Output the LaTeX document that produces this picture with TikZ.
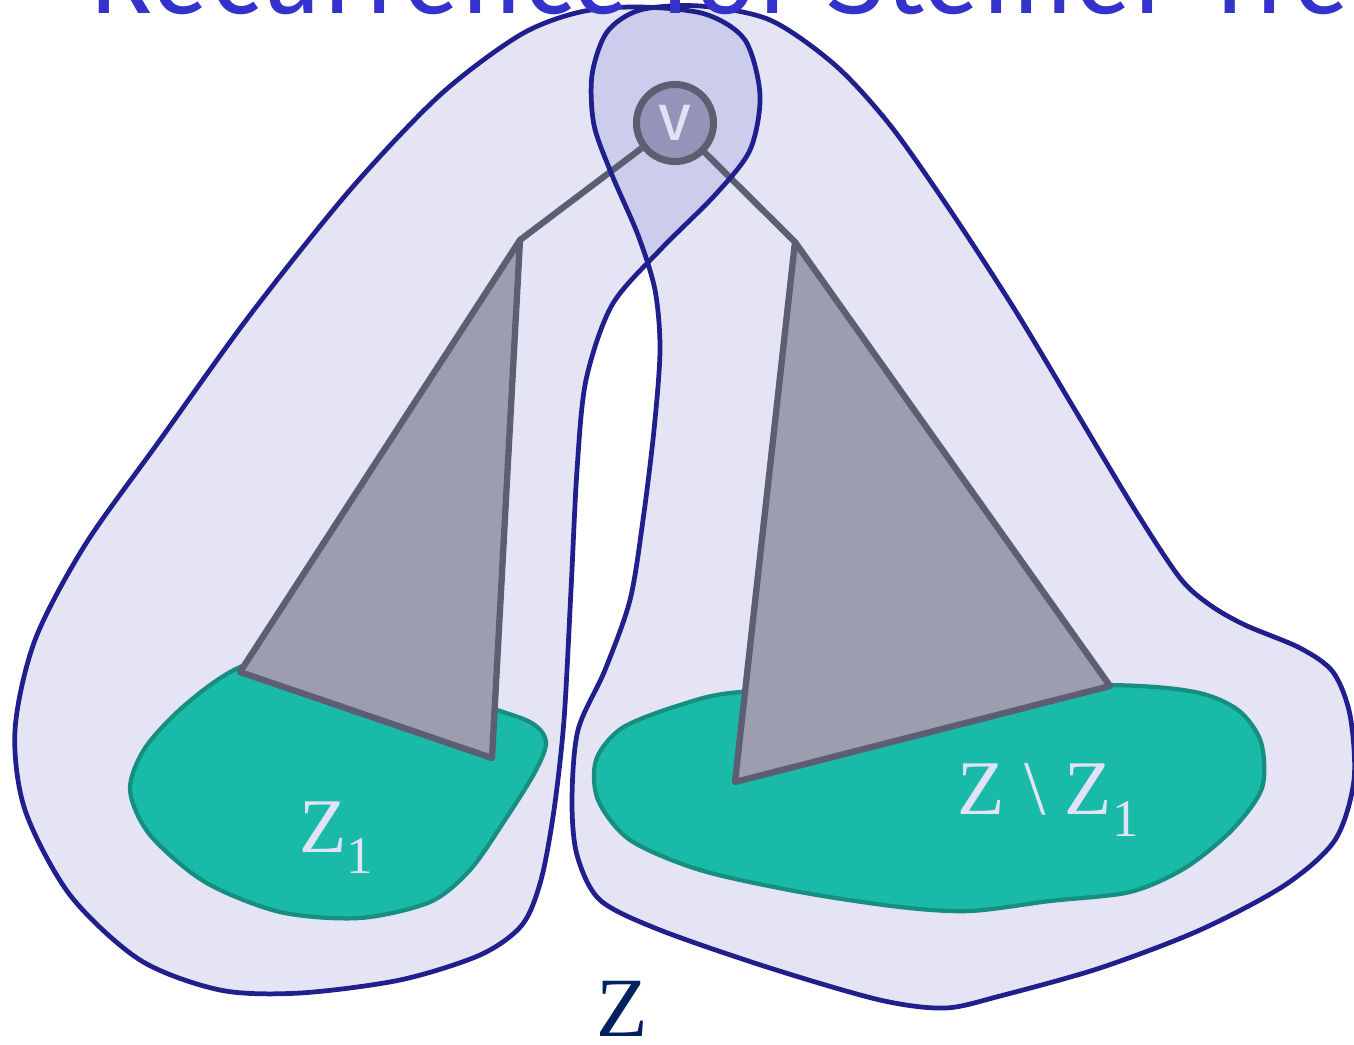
\documentclass[tikz,border=0pt]{standalone}
\usepackage{fontspec}
\setmainfont{Liberation Serif}
\newfontfamily\titlefont{Fira Sans}
\usetikzlibrary{positioning}
\definecolor{hullline}{RGB}{32,32,140}
\definecolor{hullfill}{RGB}{20,20,170}
\definecolor{termfill}{RGB}{26,186,168}
\definecolor{termline}{RGB}{22,142,128}
\definecolor{treefill}{RGB}{156,158,176}
\definecolor{treeline}{RGB}{94,94,114}
\definecolor{rootfill}{RGB}{148,148,184}
\definecolor{labelcol}{RGB}{226,226,246}
\definecolor{setcol}{RGB}{0,32,96}
\definecolor{titlecol}{RGB}{51,51,204}

\newcommand\lowsub[1]{\raisebox{-6pt}{\fontsize{15}{18}\selectfont #1}}

\tikzset{
  hull/.style={fill=hullfill, fill opacity=0.115},
  hullrim/.style={draw=hullline, line width=1.35pt},
  termset/.style={fill=termfill, draw=termline, line width=1.2pt},
  subtree/.style={fill=treefill, draw=treeline, line width=1.8pt, line join=round},
  treeedge/.style={draw=treeline, line width=1.8pt},
  setlabel/.style={text=labelcol, font=\fontsize{22}{26}\selectfont},
}

\begin{document}
\begin{tikzpicture}[x=0.01cm, y=-0.01cm]
    \useasboundingbox (0,0) rectangle (1354,1044);
    % --- Hulls (fill only, rims later) ---
    \path[hull, save path=\lefthull] plot[smooth cycle] coordinates {
      (640,7) (705,14) (745,40) (760,95) (750,150) (715,195) (660,250)
      (612,305) (586,380) (577,470) (571,590) (564,720) (554,810) (541,880)
      (522,925) (480,955) (400,980) (300,993) (220,990) (140,960) (70,895)
      (25,810) (15,730) (35,640) (85,545) (160,440) (250,315) (350,190)
      (440,95) (520,35) (580,12)};
    \path[hull, save path=\righthull] plot[smooth cycle] coordinates {
      (600,900) (577,855) (572,800) (578,730) (605,670) (630,600) (643,520)
      (654,430) (660,350) (655,290) (638,235) (612,175) (594,125) (592,75)
      (607,32) (640,10) (700,6) (770,20) (835,65) (890,125) (950,210)
      (1015,310) (1075,410) (1135,510) (1180,578) (1210,605) (1245,625)
      (1300,648) (1333,672) (1350,715) (1354,780) (1335,840) (1285,885)
      (1200,930) (1100,968) (1000,996) (945,1008) (880,1000) (770,968)
      (660,930)};
    % --- Terminal sets ---
    \draw[termset] plot[smooth cycle] coordinates {
      (330,640) (240,667) (185,705) (145,748) (130,790) (150,835) (205,882)
      (280,912) (360,918) (430,902) (470,870) (505,820) (535,772) (546,742)
      (530,722) (470,700)};
    \draw[termset] plot[smooth cycle] coordinates {
      (740,692) (680,705) (622,728) (596,760) (598,800) (630,840) (700,870)
      (800,892) (900,907) (970,911) (1050,901) (1130,892) (1185,868)
      (1232,830) (1262,788) (1261,742) (1238,710) (1195,692) (1110,685)
      (900,687)};
    % --- Subtrees ---
    \coordinate (lt) at (520,240);
    \coordinate (rt) at (795,242);
    \draw[subtree] (lt) -- (240,672) -- (492,758) -- cycle;
    \draw[subtree] (rt) -- (1110,686) -- (735,782) -- cycle;
    % --- Root ---
    \node[circle, draw=treeline, fill=rootfill, line width=2pt,
          minimum size=0.77cm, inner sep=0pt, text=labelcol,
          font=\titlefont\fontsize{19}{22}\selectfont] (v) at (675,123) {v};
    \draw[treeedge] (v) -- (lt);
    \draw[treeedge] (v) -- (rt);
    % --- Hull rims ---
    \draw[hullrim, use path=\lefthull];
    \draw[hullrim, use path=\righthull];
    % --- Labels ---
    \node[setlabel] (zone) at (336,838) {Z\lowsub{1}};
    \node[setlabel] (zrest) at (1048,800) {Z \textbackslash{} Z\lowsub{1}};
    \node[text=setcol, font=\fontsize{24}{28}\selectfont] (zall) at (622,1009) {Z};
    \node[anchor=base west, text=titlecol, font=\titlefont\fontsize{30.5}{36}\selectfont]
      (title) at (76,13) {Recurrence for Steiner Tree};
\end{tikzpicture}
\end{document}
